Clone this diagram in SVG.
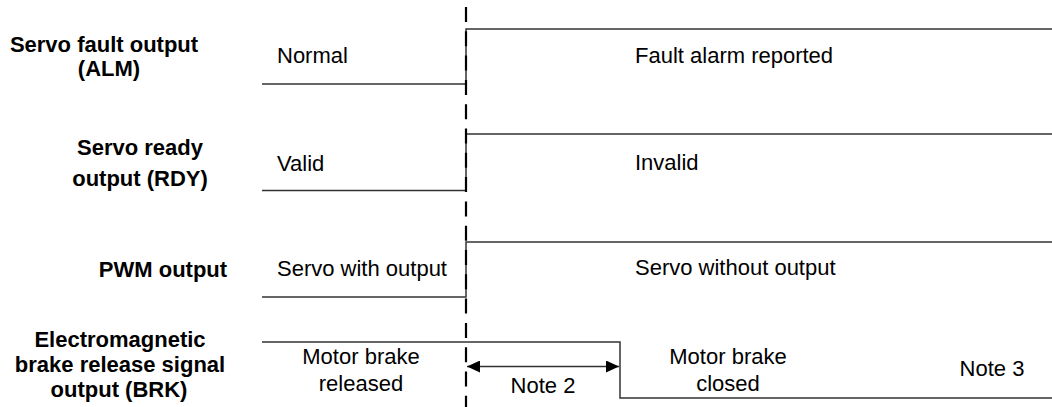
<svg xmlns="http://www.w3.org/2000/svg" width="1052" height="407" viewBox="0 0 1052 407">
  <style>
    .lbl { font-family: "Liberation Sans", Arial, sans-serif; font-size: 22px; font-weight: bold; fill: #000; text-anchor: middle; }
    .txt { font-family: "Liberation Sans", Arial, sans-serif; font-size: 22px; fill: #000; }
    .mid { text-anchor: middle; }
    .sig { fill: none; stroke: #333; stroke-width: 1.5; }
    .dash { fill: none; stroke: #000; stroke-width: 2.2; stroke-dasharray: 15 9.3; }
  </style>
  <defs>
    <marker id="ah" viewBox="0 0 13 12" refX="13" refY="6" markerWidth="13" markerHeight="12" markerUnits="userSpaceOnUse" orient="auto-start-reverse">
      <path d="M0,0 L13,6 L0,12 Z" fill="#000"/>
    </marker>
  </defs>
  <rect width="1052" height="407" fill="#fff"/>

  <g id="alm">
    <text class="lbl" x="104" y="52">Servo fault output</text>
    <text class="lbl" x="109" y="76">(ALM)</text>
    <path class="sig" d="M262,84 H466 V29 H1052"/>
    <text class="txt" x="277" y="63">Normal</text>
    <text class="txt" x="635" y="63">Fault alarm reported</text>
  </g>

  <g id="rdy">
    <text class="lbl" x="140" y="155">Servo ready</text>
    <text class="lbl" x="140" y="186">output (RDY)</text>
    <path class="sig" d="M262,190.5 H466 V134 H1052"/>
    <text class="txt" x="277" y="171">Valid</text>
    <text class="txt" x="635" y="170">Invalid</text>
  </g>

  <g id="pwm">
    <text class="lbl" x="163" y="277">PWM output</text>
    <path class="sig" d="M262,297 H466 V242 H1052"/>
    <text class="txt" x="277" y="276">Servo with output</text>
    <text class="txt" x="635" y="275">Servo without output</text>
  </g>

  <g id="brk">
    <text class="lbl" x="120" y="347">Electromagnetic</text>
    <text class="lbl" x="120" y="372">brake release signal</text>
    <text class="lbl" x="119" y="397">output (BRK)</text>
    <path class="sig" d="M262,342 H620 V398 H1052"/>
    <text class="txt mid" x="361" y="364">Motor brake</text>
    <text class="txt mid" x="361" y="391">released</text>
    <text class="txt mid" x="728" y="364">Motor brake</text>
    <text class="txt mid" x="728" y="391">closed</text>
    <text class="txt mid" x="543" y="393">Note 2</text>
    <text class="txt mid" x="992" y="376">Note 3</text>
  </g>

  <g id="connectors">
    <line class="dash" x1="466" y1="7" x2="466" y2="407"/>
    <line x1="467" y1="366.5" x2="619" y2="366.5" stroke="#333" stroke-width="1.5" marker-start="url(#ah)" marker-end="url(#ah)"/>
  </g>
</svg>
